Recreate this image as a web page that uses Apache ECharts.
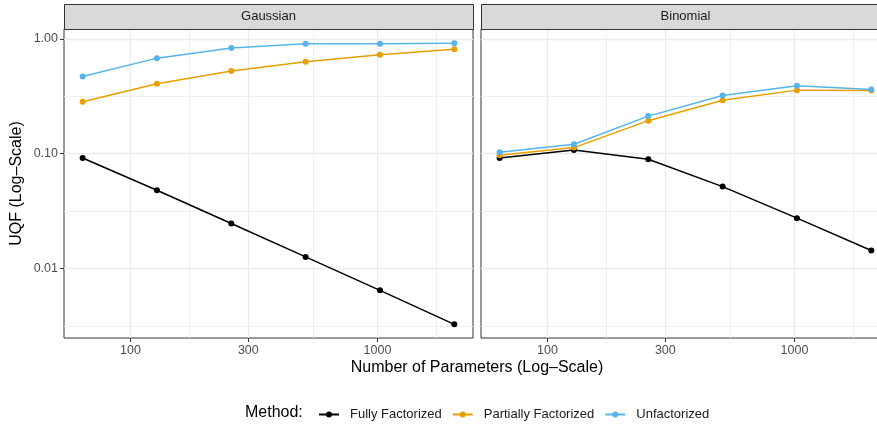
<!DOCTYPE html>
<html>
<head>
<meta charset="utf-8">
<script src="https://cdn.jsdelivr.net/npm/echarts@6/dist/echarts.min.js"></script>
<style>html,body{margin:0;padding:0;background:#fff;overflow:hidden;width:877px;height:429px}#c{width:892px;height:429px}</style>
</head>
<body>
<div id="c"></div>
<script>
// ---- data ----
const params = [64, 128, 256, 512, 1024, 2048];
const panels = ['Gaussian', 'Binomial'];
const methods = ['Fully Factorized', 'Partially Factorized', 'Unfactorized'];
const gaussFully = [0.0916, 0.048, 0.0246, 0.0126, 0.00645, 0.00326];
const gaussPartial = [0.283, 0.406, 0.523, 0.631, 0.726, 0.812];
const gaussUnfact = [0.470, 0.678, 0.829, 0.905, 0.905, 0.914];
const binomFully = [0.0916, 0.1074, 0.0892, 0.0516, 0.0274, 0.01435];
const binomPartial = [0.0967, 0.1128, 0.1936, 0.291, 0.357, 0.355];
const binomUnfact = [0.1026, 0.1205, 0.212, 0.321, 0.390, 0.362];
const xMajorTicks = [100, 300, 1000];
const xMinorTicks = [173.2, 547.7, 1732.1];
const yMajorTicks = [0.01, 0.1, 1];
const yMinorTicks = [0.00316, 0.0316, 0.316];

const colors = ['#000000', '#E69F00', '#56B4E9'];
const FONT = '"Liberation Sans", Arial, Helvetica, sans-serif';
const XMIN = 53.8, XMAX = 2438;
const YMIN = 0.00248, YMAX = 1.216;

const panelData = [
  [gaussFully, gaussPartial, gaussUnfact],
  [binomFully, binomPartial, binomUnfact]
];

const gridLeft = [64, 481];
const gridW = 409, gridTop = 29, gridH = 309;

const grids = gridLeft.map(l => ({
  left: l, top: gridTop, width: gridW, height: gridH,
  show: true, borderColor: '#333333', borderWidth: 1, backgroundColor: '#ffffff'
}));

const xAxes = [], yAxes = [];
gridLeft.forEach((l, gi) => {
  xAxes.push({
    type: 'log', gridIndex: gi, min: XMIN, max: XMAX,
    axisLine: { show: false },
    axisTick: { show: true, customValues: xMajorTicks, length: 4, lineStyle: { color: '#333333', width: 1 } },
    axisLabel: { show: true, customValues: xMajorTicks, color: '#4D4D4D', fontSize: 12.5, fontFamily: FONT, margin: 6,
      formatter: v => String(Math.round(v)) },
    splitLine: { show: true, lineStyle: { color: '#EBEBEB', width: 1.3 } },
    minorSplitLine: { show: false }
  });
  xAxes.push({
    type: 'log', gridIndex: gi, min: XMIN, max: XMAX,
    axisLine: { show: false },
    axisTick: { show: false, customValues: xMinorTicks },
    axisLabel: { show: false, customValues: xMinorTicks },
    splitLine: { show: true, lineStyle: { color: '#EDEDED', width: 0.9 } }
  });
  yAxes.push({
    type: 'log', gridIndex: gi, min: YMIN, max: YMAX,
    axisLine: { show: false },
    axisTick: { show: gi === 0, customValues: yMajorTicks, length: 4, lineStyle: { color: '#333333', width: 1 } },
    axisLabel: { show: gi === 0, customValues: yMajorTicks, color: '#4D4D4D', fontSize: 12.5, fontFamily: FONT, margin: 6,
      formatter: v => v.toFixed(2) },
    splitLine: { show: true, lineStyle: { color: '#EBEBEB', width: 1.3 } }
  });
  yAxes.push({
    type: 'log', gridIndex: gi, min: YMIN, max: YMAX,
    axisLine: { show: false },
    axisTick: { show: false, customValues: yMinorTicks },
    axisLabel: { show: false, customValues: yMinorTicks },
    splitLine: { show: true, lineStyle: { color: '#EDEDED', width: 0.9 } }
  });
});

const series = [];
panelData.forEach((arrs, gi) => {
  arrs.forEach((vals, mi) => {
    series.push({
      name: methods[mi], type: 'line',
      xAxisIndex: gi * 2, yAxisIndex: gi * 2,
      data: params.map((p, i) => [p, vals[i]]),
      symbol: 'circle', symbolSize: 6, showSymbol: true,
      lineStyle: { color: colors[mi], width: 1.5 },
      itemStyle: { color: colors[mi] },
      z: 3 + mi, animation: false
    });
  });
});

const graphics = [];
gridLeft.forEach((l, gi) => {
  graphics.push({
    type: 'rect', left: l, top: 4, shape: { width: gridW, height: 25 },
    style: { fill: '#D9D9D9', stroke: '#333333', lineWidth: 1 }, z: 10
  });
  graphics.push({
    type: 'text', x: l + gridW / 2, y: 16.5,
    style: { text: panels[gi], fill: '#1A1A1A', font: '13px ' + FONT, textAlign: 'center', textVerticalAlign: 'middle' }, z: 11
  });
});
graphics.push({
  type: 'text', x: 477, y: 368,
  style: { text: 'Number of Parameters (Log\u2013Scale)', fill: '#000', font: '16px ' + FONT, textAlign: 'center', textVerticalAlign: 'middle' }
});
graphics.push({
  type: 'text', x: 17, y: 183.5, rotation: Math.PI / 2,
  style: { text: 'UQF (Log\u2013Scale)', fill: '#000', font: '16px ' + FONT, textAlign: 'center', textVerticalAlign: 'middle' }
});
graphics.push({
  type: 'text', x: 245, y: 413,
  style: { text: 'Method:', fill: '#000', font: '16px ' + FONT, textAlign: 'left', textVerticalAlign: 'middle' }
});

const chart = echarts.init(document.getElementById('c'), null, { renderer: 'canvas' });
chart.setOption({
  animation: false,
  backgroundColor: '#ffffff',
  grid: grids,
  xAxis: xAxes,
  yAxis: yAxes,
  series: series,
  legend: {
    data: methods, left: 313, top: 403, itemWidth: 20, itemHeight: 7.5, itemGap: 10,
    textStyle: { fontSize: 13, color: '#1A1A1A', fontFamily: FONT, padding: [0, 0, 0, 6] }
  },
  graphic: graphics
});
</script>
</body>
</html>
